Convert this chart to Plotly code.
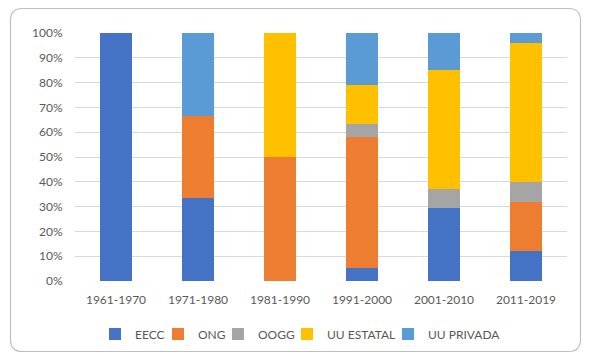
import plotly.graph_objects as go

categories = ["1961-1970", "1971-1980", "1981-1990", "1991-2000", "2001-2010", "2011-2019"]
eecc = [100, 33.33, 0, 5.26, 29.63, 12]
ong = [0, 33.33, 50, 52.63, 0, 20]
oogg = [0, 0, 0, 5.26, 7.41, 8]
uu_estatal = [0, 0, 50, 15.79, 48.15, 56]
uu_privada = [0, 33.34, 0, 21.06, 14.81, 4]

series_names = ["EECC", "ONG", "OOGG", "UU ESTATAL", "UU PRIVADA"]
series_values = [eecc, ong, oogg, uu_estatal, uu_privada]
series_colors = ["#4472C4", "#ED7D31", "#A5A5A5", "#FFC000", "#5B9BD5"]

# page body has an 8px margin, so the figure is drawn 8px smaller and offset
OFF = 8
W, H = 589 - OFF, 359 - OFF
L, R, T, B = 75 - OFF, 22, 33 - OFF, 78
pw, ph = W - L - R, H - T - B

def px2paper(x, y):
    # x, y are window pixel coordinates
    return (x - OFF - L) / pw, 1 - (y - OFF - T) / ph

legend_ids = ["legend", "legend2", "legend3", "legend4", "legend5"]
legend_symbol_x = [110, 173, 233, 302, 403]

fig = go.Figure()
for name, vals, color, lid in zip(series_names, series_values, series_colors, legend_ids):
    fig.add_trace(go.Bar(x=categories, y=vals, name=name, marker_color=color,
                         marker_line_width=0, legend=lid))

# rounded border
x0, y0, x1, y1, r = 10.5, 8.5, 580.5, 351.5, 12
def P(x, y):
    px, py = px2paper(x, y)
    return f"{px:.5f},{py:.5f}"
path = (f"M {P(x0 + r, y0)} L {P(x1 - r, y0)} Q {P(x1, y0)} {P(x1, y0 + r)} "
        f"L {P(x1, y1 - r)} Q {P(x1, y1)} {P(x1 - r, y1)} "
        f"L {P(x0 + r, y1)} Q {P(x0, y1)} {P(x0, y1 - r)} "
        f"L {P(x0, y0 + r)} Q {P(x0, y0)} {P(x0 + r, y0)} Z")
fig.add_shape(type="path", path=path, xref="paper", yref="paper",
              line=dict(color="#BFBFBF", width=1.2), layer="below")

legend_layout = {}
for lid, sx in zip(legend_ids, legend_symbol_x):
    lx, ly = px2paper(sx - 15, 334)
    legend_layout[lid] = dict(orientation="h", x=lx, y=ly, xanchor="left",
                              yanchor="middle", itemwidth=30,
                              bgcolor="rgba(0,0,0,0)",
                              font=dict(size=12, color="#595959"))

fig.update_layout(
    barmode="stack",
    bargap=0.6,
    width=W, height=H,
    margin=dict(l=L, r=R, t=T, b=B, autoexpand=False),
    paper_bgcolor="white",
    plot_bgcolor="white",
    font=dict(family="Lato, Open Sans, sans-serif", size=12, color="#595959"),
    showlegend=True,
    xaxis=dict(showgrid=False, showline=False, ticks="outside", ticklen=8,
               tickcolor="rgba(0,0,0,0)", tickfont=dict(size=12), automargin=False),
    yaxis=dict(range=[0, 100], dtick=10, ticksuffix="%", showgrid=True,
               gridcolor="#D9D9D9", gridwidth=1, zeroline=False, showline=False,
               ticks="outside", ticklen=9, tickcolor="rgba(0,0,0,0)",
               tickfont=dict(size=12), automargin=False),
    **legend_layout,
)

fig.write_html("out.html")
